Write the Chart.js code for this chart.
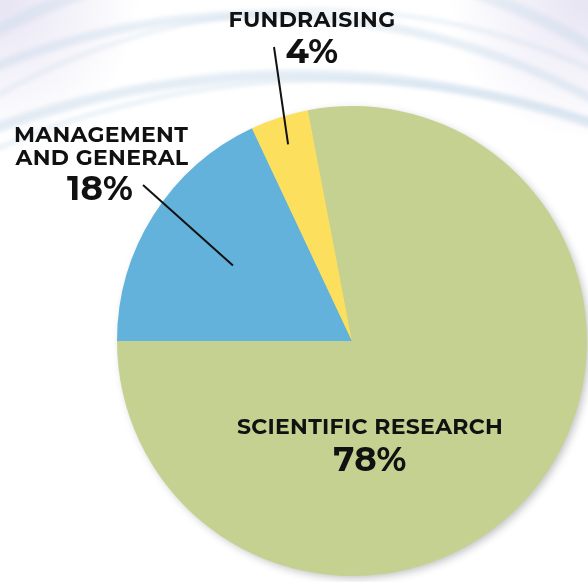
<!DOCTYPE html>
<html lang="en">

<head>
    <meta charset="UTF-8">
    <title>Expense Breakdown</title>
    <script src="https://cdn.jsdelivr.net/npm/chart.js"></script>
    <style>
        html, body { margin: 0; padding: 0; background: #fff; }
        #pieChart { display: block; }
    </style>
</head>

<body>
    <canvas id="pieChart" width="588" height="582"></canvas>

    <script>
        // data (clockwise from 9 o'clock)
        const categories = ['MANAGEMENT AND GENERAL', 'FUNDRAISING', 'SCIENTIFIC RESEARCH'];
        const percents = [18, 4, 78];
        const sliceColors = ['#62b2dc', '#fddf5e', '#c5d191'];

        const FONT = 'Montserrat, "Noto Sans", "DejaVu Sans", sans-serif';

        // faint blue swirls behind everything
        const swirlBackground = {
            id: 'swirlBackground',
            beforeDraw(chart) {
                const ctx = chart.ctx;
                ctx.save();
                ctx.fillStyle = '#ffffff';
                ctx.fillRect(0, 0, chart.width, chart.height);
                // lavender tint in the top corners
                let g = ctx.createRadialGradient(0, 0, 0, 0, 0, 140);
                g.addColorStop(0, 'rgba(215, 210, 235, 0.6)');
                g.addColorStop(1, 'rgba(215, 210, 235, 0)');
                ctx.fillStyle = g;
                ctx.fillRect(0, 0, 200, 200);
                g = ctx.createRadialGradient(588, 0, 0, 588, 0, 140);
                g.addColorStop(0, 'rgba(215, 210, 235, 0.6)');
                g.addColorStop(1, 'rgba(215, 210, 235, 0)');
                ctx.fillStyle = g;
                ctx.fillRect(388, 0, 200, 200);

                ctx.filter = 'blur(2px)';
                const swirls = [
                    { cx: 300, cy: 975, r: 900, w: 10, a: 0.45 },
                    { cx: 330, cy: 920, r: 840, w: 5, a: 0.35 },
                    { cx: 260, cy: 715, r: 700, w: 9, a: 0.4 },
                    { cx: 320, cy: 660, r: 650, w: 4, a: 0.35 },
                    { cx: 280, cy: 560, r: 600, w: 12, a: 0.35 }
                ];
                swirls.forEach(s => {
                    ctx.beginPath();
                    ctx.arc(s.cx, s.cy, s.r, Math.PI * 1.05, Math.PI * 1.95);
                    ctx.strokeStyle = `rgba(195, 215, 232, ${s.a})`;
                    ctx.lineWidth = s.w;
                    ctx.stroke();
                });
                ctx.restore();
            },
            beforeDatasetsDraw(chart) {
                // soft drop shadow under the pie
                const arc = chart.getDatasetMeta(0).data[0];
                if (!arc) return;
                const ctx = chart.ctx;
                ctx.save();
                ctx.shadowColor = 'rgba(0, 0, 0, 0.25)';
                ctx.shadowBlur = 8;
                ctx.shadowOffsetX = 3;
                ctx.shadowOffsetY = 3;
                ctx.beginPath();
                ctx.arc(arc.x, arc.y, arc.outerRadius - 1, 0, Math.PI * 2);
                ctx.fillStyle = '#c5d191';
                ctx.fill();
                ctx.restore();
            }
        };

        // slice labels with leader lines
        const sliceLabels = {
            id: 'sliceLabels',
            afterDatasetsDraw(chart) {
                const ctx = chart.ctx;
                const meta = chart.getDatasetMeta(0);
                const pointAt = (el, frac) => {
                    const mid = (el.startAngle + el.endAngle) / 2;
                    return {
                        x: el.x + Math.cos(mid) * el.outerRadius * frac,
                        y: el.y + Math.sin(mid) * el.outerRadius * frac
                    };
                };
                const title = `bold 22px ${FONT}`;
                const pct = `bold 34px ${FONT}`;
                ctx.save();
                ctx.fillStyle = '#111';
                ctx.strokeStyle = '#111';
                ctx.lineWidth = 2;
                ctx.textAlign = 'center';
                ctx.textBaseline = 'alphabetic';
                ctx.letterSpacing = '0.3px';

                // management and general
                const mg = meta.data[0];
                const mgIn = pointAt(mg, 0.6);
                ctx.beginPath();
                ctx.moveTo(143, 185);
                ctx.lineTo(mgIn.x, mgIn.y);
                ctx.stroke();
                ctx.font = title;
                ctx.fillText('MANAGEMENT', 101, 142);
                ctx.fillText('AND GENERAL', 102, 165);
                ctx.font = pct;
                ctx.fillText(percents[0] + '%', 100, 200);

                // fundraising
                const fr = meta.data[1];
                const frIn = pointAt(fr, 0.88);
                ctx.beginPath();
                ctx.moveTo(274, 47);
                ctx.lineTo(frIn.x, frIn.y);
                ctx.stroke();
                ctx.font = title;
                ctx.fillText('FUNDRAISING', 312, 27);
                ctx.font = pct;
                ctx.fillText(percents[1] + '%', 312, 63);

                // scientific research
                ctx.font = title;
                ctx.fillText('SCIENTIFIC RESEARCH', 370, 434);
                ctx.font = pct;
                ctx.fillText(percents[2] + '%', 370, 471);
                ctx.restore();
            }
        };

        const ctx = document.getElementById('pieChart').getContext('2d');
        const chart = new Chart(ctx, {
            type: 'pie',
            data: {
                labels: categories,
                datasets: [{
                    data: percents,
                    backgroundColor: sliceColors,
                    borderWidth: 0
                }]
            },
            options: {
                responsive: false,
                animation: false,
                rotation: 270,
                layout: {
                    padding: { left: 117, right: 1, top: 106, bottom: 6 }
                },
                plugins: {
                    legend: { display: false },
                    tooltip: { enabled: false }
                }
            },
            plugins: [swirlBackground, sliceLabels]
        });
    </script>
</body>

</html>
